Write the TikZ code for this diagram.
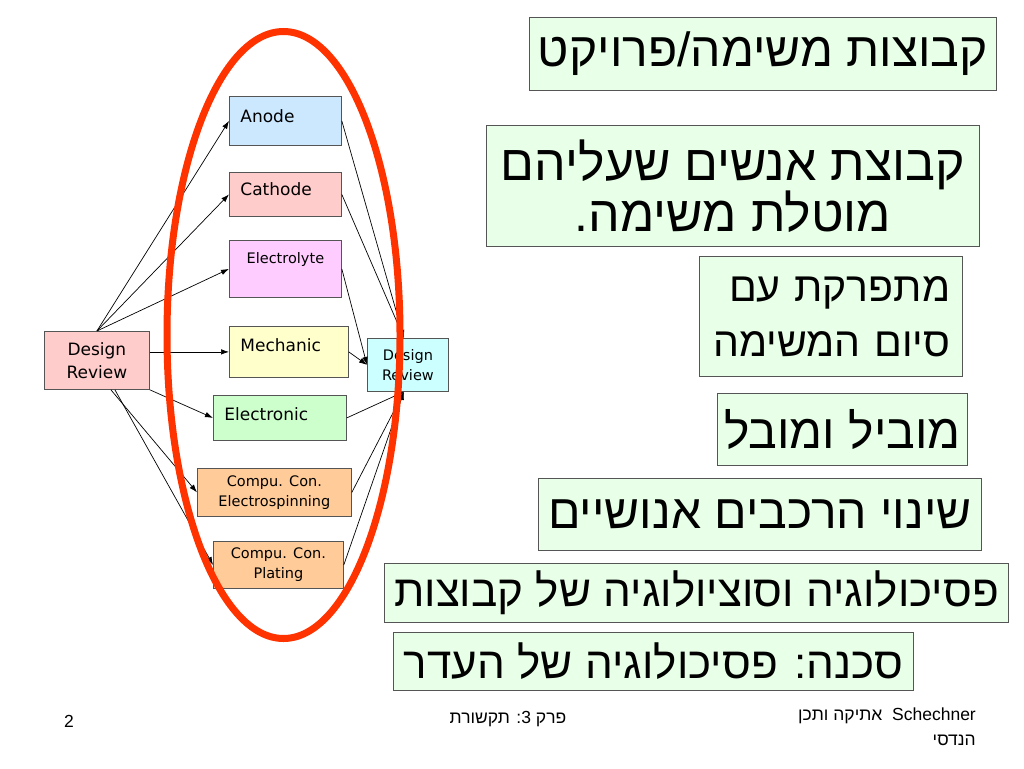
\documentclass[tikz,border=0pt]{standalone}
\usepackage{fontspec}
\setmainfont{DejaVu Sans}
\newfontfamily\hebfont[Script=Hebrew]{Liberation Sans}
\TeXXeTstate=1
\usetikzlibrary{arrows.meta,positioning}
\definecolor{anodeblue}{RGB}{204,232,255}
\definecolor{cathodepink}{RGB}{255,204,204}
\definecolor{lytepink}{RGB}{255,204,255}
\definecolor{mechyellow}{RGB}{255,255,204}
\definecolor{tronicgreen}{RGB}{204,255,204}
\definecolor{compuorange}{RGB}{255,204,153}
\definecolor{reviewcyan}{RGB}{204,255,255}
\definecolor{notegreen}{RGB}{232,255,232}
\definecolor{ringred}{RGB}{255,51,0}
\definecolor{boxline}{RGB}{85,85,85}
\newcommand{\heb}[1]{\beginR #1\endR}
\newcommand{\fs}[2]{\fontsize{#1}{#2}\selectfont}
\tikzset{
	part/.style={draw=boxline, line width=.8pt, inner ysep=0pt, anchor=north west, font=\fs{17}{23}},
	review/.style={draw=boxline, line width=.8pt, inner sep=0pt, anchor=north west, align=center},
	note/.style={draw=boxline, fill=notegreen, line width=.8pt, inner sep=0pt, anchor=north west},
	flow/.style={line width=.7pt, -{Latex[length=8pt,width=5.5pt]}},
	foot/.style={font=\hebfont\fs{17.5}{25}}
}
\begin{document}
\begin{tikzpicture}[x=1pt,y=-1pt]
	\useasboundingbox[fill=white] (0,0) rectangle (1024,768);
	% left review and the work packages
	\node[review, fill=cathodepink, font=\fs{17}{23}, minimum width=105pt, minimum height=58pt] (startrev) at (44,331) {Design\\Review};
	\node[part, fill=anodeblue, text width=90pt, inner xsep=11pt, text height=26pt, text depth=23pt, align=left] (anode) at (229,96) {Anode};
	\node[part, fill=cathodepink, text width=90pt, inner xsep=11pt, text height=23pt, text depth=21pt, align=left] (cathode) at (229,172) {Cathode};
	\node[part, fill=lytepink, font=\fs{14.5}{20}, text width=104pt, inner xsep=4pt, text height=23pt, text depth=34pt, align=center] (lyte) at (229,240) {Electrolyte};
	\node[part, fill=mechyellow, text width=97pt, inner xsep=11pt, text height=25pt, text depth=26pt, align=left] (mech) at (229,326) {Mechanic};
	\node[part, fill=tronicgreen, text width=111pt, inner xsep=11pt, text height=25pt, text depth=20pt, align=left] (tronic) at (213,395) {Electronic};
	\node[review, fill=compuorange, font=\fs{14.5}{20}, minimum width=154pt, minimum height=48pt] (spin) at (197,468) {Compu. Con.\\Electrospinning};
	\node[review, fill=compuorange, font=\fs{14.5}{20}, minimum width=130pt, minimum height=47pt] (plate) at (213,541) {Compu. Con.\\Plating};
	% right review
	\node[review, fill=reviewcyan, font=\fs{14.5}{20}, minimum width=81pt, minimum height=53pt] (endrev) at (367,338) {Design\\Review};
	% connectors in
	\draw[flow] (startrev.north) -- (anode.west);
	\draw[flow] (startrev.north) -- (cathode.west);
	\draw[flow] (startrev.north) -- (lyte.west);
	\draw[flow] (startrev.east |- mech.west) -- (mech.west);
	\draw[flow] (startrev.south east) -- (tronic.west);
	\draw[flow] ([xshift=14pt]startrev.south) -- (spin.west);
	\draw[flow] ([xshift=18pt]startrev.south) -- (plate.west);
	% connectors out
	\draw[flow] (anode.east) -- ([xshift=-4pt]endrev.north);
	\draw[flow] (cathode.east) -- ([xshift=-4pt]endrev.north);
	\draw[flow] (lyte.east) -- (endrev.west);
	\draw[flow] (mech.east) -- (endrev.west);
	\draw[flow] (tronic.east) -- ([xshift=-4pt]endrev.south);
	\draw[flow] (spin.east) -- ([xshift=-4pt]endrev.south);
	\draw[flow] (plate.east) -- ([xshift=-4pt]endrev.south);
	% the ring
	\draw[ringred, line width=7pt] (283.5,335) ellipse [x radius=116.5, y radius=303.5];
	% notes
	\node[note, font=\hebfont\fs{48}{49}, minimum width=467pt, minimum height=73pt] (groups) at (529,17) {\heb{קבוצות משימה/פרויקט}};
	\node[note, font=\hebfont\fs{50}{49}, minimum width=493pt, minimum height=121pt, align=center] (people) at (486,125) {\heb{קבוצת אנשים שעליהם}\\\heb{מוטלת משימה.}};
	\node[note, font=\hebfont\fs{41}{55}, text width=239pt, inner xsep=12pt, minimum height=120pt, align=right] (breakup) at (699,256) {\heb{מתפרקת עם}\\\heb{סיום המשימה}};
	\node[note, font=\hebfont\fs{48}{50}, minimum width=250pt, minimum height=72pt] (lead) at (717,393) {\heb{מוביל ומובל}};
	\node[note, font=\hebfont\fs{48}{49}, minimum width=443pt, minimum height=72pt] (change) at (538,478) {\heb{שינוי הרכבים אנושיים}};
	\node[note, font=\hebfont\fs{44}{46}, minimum width=624pt, minimum height=59pt] (psych) at (384,563) {\heb{פסיכולוגיה וסוציולוגיה של קבוצות}};
	\node[note, font=\hebfont\fs{44}{46}, minimum width=520pt, minimum height=58pt] (herd) at (393,632) {\heb{סכנה: פסיכולוגיה של העדר}};
	% footer
	\node[foot, anchor=base west, inner sep=0pt] (pagenum) at (64,727) {2};
	\node[foot, anchor=base, inner sep=0pt] (chapter) at (508,723) {\heb{פרק 3: תקשורת}};
	\node[foot, anchor=north east, align=right, inner sep=0pt] (course) at (976,708) {\heb{\beginL Schechner\endL\ \ אתיקה ותכן}\\\heb{הנדסי}};
\end{tikzpicture}
\end{document}
